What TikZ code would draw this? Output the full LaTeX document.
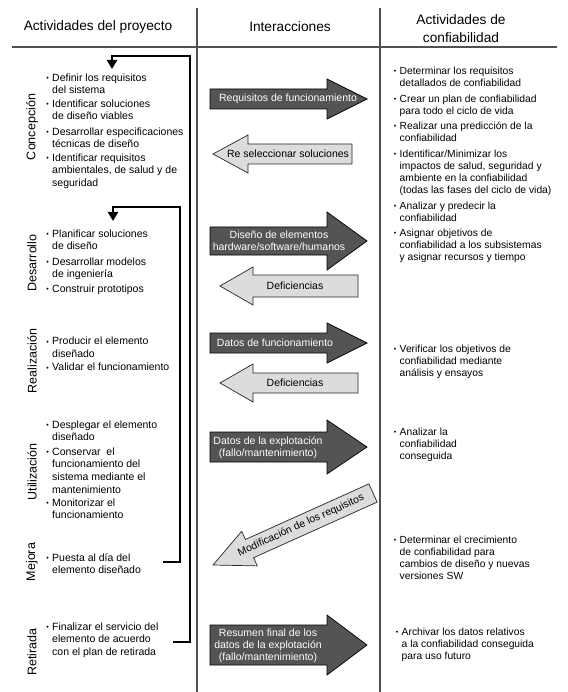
\documentclass[tikz,border=0pt]{standalone}
\usepackage{fontspec}
\setmainfont{Liberation Sans}
\usetikzlibrary{arrows.meta}
\definecolor{darkfill}{HTML}{545454}
\definecolor{lightfill}{HTML}{DCDCDC}
\definecolor{rulecol}{HTML}{505050}
\newcommand\bul{\leavevmode\llap{\raisebox{0.8pt}{\fontsize{7}{7}\selectfont •}\hspace{3.5pt}}}
\newcommand\blk[1]{\begin{tabular}[t]{@{}l@{}}#1\end{tabular}}
\tikzset{
  hdr/.style={font=\fontsize{13.7}{18}\selectfont, align=center, inner sep=0pt},
  phase/.style={font=\fontsize{12.5}{14}\selectfont, rotate=90, inner sep=0pt},
  itm/.style={font=\fontsize{10.5}{12.6}\selectfont, anchor=base west, inner sep=0pt},
  ritm/.style={font=\fontsize{10.3}{12.1}\selectfont, anchor=base west, inner sep=0pt},
  darr/.style={fill=darkfill, draw=black, line width=0.7pt, line join=miter},
  larr/.style={fill=lightfill, draw=black!85, line width=0.7pt, line join=miter},
  dtxt/.style={font=\fontsize{10.5}{12}\selectfont, text=white, align=center, inner sep=0pt},
  ltxt/.style={font=\fontsize{10.5}{12}\selectfont, text=black, align=center, inner sep=0pt},
  loopline/.style={line width=2.8pt, line join=miter, -{Triangle[width=10pt,length=9pt]}},
  colrule/.style={draw=rulecol, line width=1.3pt}
}
% right arrow: #1 left x, #2 head base x, #3 tip x, #4 center y, #5 body half, #6 head half
\newcommand\rarr[6]{\draw[darr] (#1,#4-#5) -- (#2,#4-#5) -- (#2,#4-#6) -- (#3,#4) -- (#2,#4+#6) -- (#2,#4+#5) -- (#1,#4+#5) -- cycle;}
% left arrow: #1 tip x, #2 head base x, #3 right x, #4 center y, #5 body half, #6 head half
\newcommand\larr[6]{\draw[larr] (#3,#4-#5) -- (#2,#4-#5) -- (#2,#4-#6) -- (#1,#4) -- (#2,#4+#6) -- (#2,#4+#5) -- (#3,#4+#5) -- cycle;}
\begin{document}
\begin{tikzpicture}[x=1pt, y=-1pt]
\useasboundingbox[fill=white] (0,0) rectangle (567,692);

% column rules
\draw[colrule] (197,8) -- (197,692);
\draw[colrule] (380,8) -- (380,692);
\draw[colrule] (12,47) -- (557,47);

% headers
\node[hdr] (h1) at (98,27) {Actividades del proyecto};
\node[hdr] (h2) at (290,27) {Interacciones};
\node[hdr] (h3) at (461,29) {Actividades de\\confiabilidad};

% phase labels
\node[phase] (pc) at (32,127) {Concepción};
\node[phase] (pd) at (32,263) {Desarrollo};
\node[phase] (pr) at (32,361) {Realización};
\node[phase] (pu) at (32,472) {Utilización};
\node[phase] (pm) at (32,562) {Mejora};
\node[phase] (pt) at (32,652) {Retirada};

% left column items
\node[itm] (c1) at (52,81.3) {\blk{\bul Definir los requisitos\\del sistema}};
\node[itm] (c2) at (52,107.3) {\blk{\bul Identificar soluciones\\de diseño viables}};
\node[itm] (c3) at (52,135.3) {\blk{\bul Desarrollar especificaciones\\técnicas de diseño}};
\node[itm] (c4) at (52,161.3) {\blk{\bul Identificar requisitos\\ambientales, de salud y de\\seguridad}};
\node[itm] (d1) at (52,237.3) {\blk{\bul Planificar soluciones\\de diseño}};
\node[itm] (d2) at (52,265.3) {\blk{\bul Desarrollar modelos\\de ingeniería}};
\node[itm] (d3) at (52,292.3) {\blk{\bul Construir prototipos}};
\node[itm] (r1) at (52,344.8) {\blk{\bul Producir el elemento\\diseñado}};
\node[itm] (r2) at (52,370.8) {\blk{\bul Validar el funcionamiento}};
\node[itm] (u1) at (52,428.3) {\blk{\bul Desplegar el elemento\\diseñado}};
\node[itm] (u2) at (52,455.3) {\blk{\bul Conservar\ \ el\\funcionamiento del\\sistema mediante el\\mantenimiento}};
\node[itm] (u3) at (52,506.3) {\blk{\bul Monitorizar el\\funcionamiento}};
\node[itm] (m1) at (52,561.3) {\blk{\bul Puesta al día del\\elemento diseñado}};
\node[itm] (t1) at (52,630.3) {\blk{\bul Finalizar el servicio del\\elemento de acuerdo\\con el plan de retirada}};

% right column items
\node[ritm] (a1) at (399.5,74.8) {\blk{\bul Determinar los requisitos\\detallados de confiabilidad}};
\node[ritm] (a2) at (399.5,102.3) {\blk{\bul Crear un plan de confiabilidad\\para todo el ciclo de vida}};
\node[ritm] (a3) at (399.5,129.8) {\blk{\bul Realizar una predicción de la\\confiabilidad}};
\node[ritm] (a4) at (399.5,157.3) {\blk{\bul Identificar/Minimizar los\\impactos de salud, seguridad y\\ambiente en la confiabilidad\\(todas las fases del ciclo de vida)}};
\node[ritm] (a5) at (399.5,209.3) {\blk{\bul Analizar y predecir la\\confiabilidad}};
\node[ritm] (a6) at (399.5,236.3) {\blk{\bul Asignar objetivos de\\confiabilidad a los subsistemas\\y asignar recursos y tiempo}};
\node[ritm] (a7) at (399.5,352.3) {\blk{\bul Verificar los objetivos de\\confiabilidad mediante\\análisis y ensayos}};
\node[ritm] (a8) at (399.5,435.3) {\blk{\bul Analizar la\\confiabilidad\\conseguida}};
\node[ritm] (a9) at (399.5,543.3) {\blk{\bul Determinar el crecimiento\\de confiabilidad para\\cambios de diseño y nuevas\\versiones SW}};
\node[ritm] (a10) at (401.5,635.3) {\blk{\bul Archivar los datos relativos\\a la confiabilidad conseguida\\para uso futuro}};

% interaction arrows
\rarr{210}{327}{367}{99}{10}{20}
\node[dtxt] (i1) at (288,99) {Requisitos de funcionamiento};
\larr{213}{248}{352}{154}{10}{19}
\node[ltxt] (i2) at (288,154) {Re seleccionar soluciones};
\rarr{210}{327}{367}{241}{14}{29}
\node[dtxt] (i3) at (279,241) {Diseño de elementos\\hardware/software/humanos};
\larr{220}{253}{358}{286}{11}{19}
\node[ltxt] (i4) at (295,286) {Deficiencias};
\rarr{210}{327}{367}{343}{10}{20}
\node[dtxt] (i5) at (275,343) {Datos de funcionamiento};
\larr{220}{253}{358}{383}{10}{19}
\node[ltxt] (i6) at (295,383) {Deficiencias};
\rarr{210}{327}{367}{447}{15}{27}
\node[dtxt] (i7) at (268,448) {Datos de la explotación\\(fallo/mantenimiento)};
\draw[larr] (368.9,483.9) -- (245.4,539.5) -- (241.7,531.3) -- (213,565) -- (257.3,565.9) -- (253.6,557.7) -- (377.1,502.1) -- cycle;
\node[ltxt, rotate=24.2] (i8) at (301,525.4) {Modificación de los requisitos};
\rarr{210}{327}{367}{645}{20}{30}
\node[dtxt] (i9) at (268,646) {Resumen final de los\\datos de la explotación\\(fallo/mantenimiento)};

% feedback loops
\coordinate (mejS) at (163,562);
\coordinate (mejK) at (180,207);
\coordinate (desK) at (113,207);
\coordinate (desT) at (113,221);
\draw[loopline] (mejS) -| (mejK) -- (desK) -- (desT);
\coordinate (retS) at (173,642);
\coordinate (retK) at (190,56);
\coordinate (conK) at (112,56);
\coordinate (conT) at (112,69);
\draw[loopline] (retS) -| (retK) -- (conK) -- (conT);
\end{tikzpicture}
\end{document}
